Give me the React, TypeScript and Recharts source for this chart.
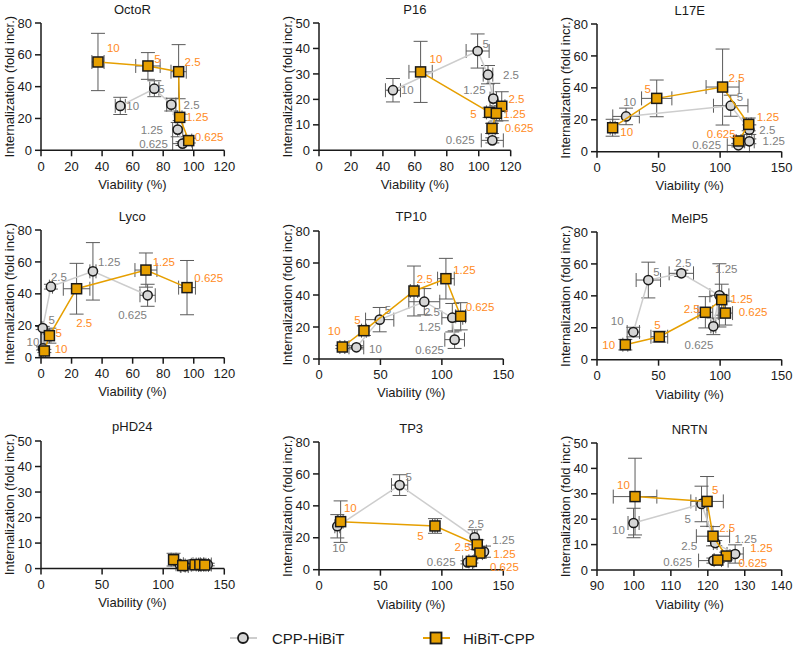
import React from 'react';
import { ScatterChart, Scatter, XAxis, YAxis, ErrorBar } from 'recharts';

// ---------- DATA ----------
const concentrations = ['10', '5', '2.5', '1.25', '0.625'];

// OctoR
const octoRCppX = [51.9, 74.2, 85.3, 89.5, 92.7];
const octoRCppY = [27.9, 38.7, 28.7, 13.0, 4.2];
const octoRCppXErr = [3.3, 3, 3, 3.3, 6.5];
const octoRCppYErr = [5.4, 5, 4, 4.5, 1.2];
const octoRHibX = [37.3, 70.0, 90.1, 90.8, 96.7];
const octoRHibY = [55.5, 53.0, 49.4, 20.7, 6.1];
const octoRHibXErr = [4, 8, 5, 1.5, 2];
const octoRHibYErr = [18, 8.4, 17, 2, 1.5];

// P16
const p16CppX = [46.3, 99.3, 105.8, 109.1, 108.5];
const p16CppY = [23.6, 39.0, 29.7, 20.3, 3.9];
const p16CppXErr = [4.7, 7.2, 3, 2, 6.9];
const p16CppYErr = [4.6, 6.7, 3.6, 6, 1];
const p16HibX = [63.6, 106.8, 114.4, 111.0, 108.3];
const p16HibY = [30.8, 14.9, 17.3, 14.5, 8.6];
const p16HibXErr = [7.3, 2, 2, 2, 2];
const p16HibYErr = [12, 2, 5.7, 3, 2];

// L17E
const l17eCppX = [23.6, 108.6, 123.7, 123.7, 114.8];
const l17eCppY = [22.1, 28.8, 13.8, 6.5, 4.0];
const l17eCppXErr = [10.8, 14, 2, 4, 9];
const l17eCppYErr = [5.2, 6.6, 3, 1.5, 1];
const l17eHibX = [12.7, 48.5, 102.0, 123.2, 115.0];
const l17eHibY = [15.0, 33.4, 40.5, 17.1, 6.7];
const l17eHibXErr = [2, 12.3, 13.4, 2, 2];
const l17eHibYErr = [5.3, 11.5, 23.8, 4, 1.5];

// Lyco
const lycoCppX = [1.3, 1.1, 6.5, 34.0, 69.8];
const lycoCppY = [5.8, 18.6, 44.5, 54.1, 39.1];
const lycoCppXErr = [0.5, 0.5, 1, 2, 5];
const lycoCppYErr = [1, 1, 1.5, 18, 6.9];
const lycoHibX = [2.2, 5.5, 23.3, 68.7, 95.6];
const lycoHibY = [4.2, 13.8, 43.2, 54.9, 43.9];
const lycoHibXErr = [0.8, 1, 8.7, 7.2, 5.5];
const lycoHibYErr = [1, 4.7, 15.9, 10.7, 17];

// TP10
const tp10CppX = [30.4, 49.4, 85.7, 108.5, 110.4];
const tp10CppY = [7.3, 24.6, 35.8, 25.8, 12.1];
const tp10CppXErr = [6, 11.5, 12.6, 8.5, 8];
const tp10CppYErr = [1, 7.6, 8.2, 8.9, 5.5];
const tp10HibX = [19.0, 36.6, 77.3, 103.3, 115.3];
const tp10HibY = [7.5, 17.7, 42.5, 50.2, 26.7];
const tp10HibXErr = [2, 2, 3, 6.8, 4];
const tp10HibYErr = [1, 3, 15.6, 12.7, 8.5];

// MelP5
const melp5CppX = [29.5, 41.7, 68.5, 99.4, 94.5];
const melp5CppY = [17.3, 49.9, 54.1, 40.3, 20.9];
const melp5CppXErr = [5, 9.9, 9.9, 7.7, 2];
const melp5CppYErr = [3, 11.2, 2, 19.8, 5.2];
const melp5HibX = [23.0, 50.6, 88.0, 101.3, 104.3];
const melp5HibY = [9.4, 14.4, 29.7, 37.6, 29.2];
const melp5HibXErr = [2, 6.8, 6, 2, 5.8];
const melp5HibYErr = [3.3, 3.4, 9.8, 9.7, 7.5];

// pHD24
const phd24CppX = [113.5, 117.5, 127.4, 132.0, 136.4];
const phd24CppY = [1.7, 1.0, 1.7, 1.5, 1.6];
const phd24CppXErr = [3, 3, 3, 3, 3];
const phd24CppYErr = [0.5, 0.5, 0.5, 0.5, 0.5];
const phd24HibX = [108.5, 116.0, 126.0, 130.0, 134.0];
const phd24HibY = [3.5, 1.2, 1.5, 1.6, 1.4];
const phd24HibXErr = [2, 2, 3, 3, 3];
const phd24HibYErr = [2.5, 0.5, 0.5, 0.5, 0.5];

// TP3
const tp3CppX = [14.9, 65.6, 126.7, 134.3, 120.9];
const tp3CppY = [27.2, 53.0, 20.3, 11.3, 4.6];
const tp3CppXErr = [2, 6.6, 2, 2, 4];
const tp3CppYErr = [7.3, 6.5, 4.7, 3.5, 1];
const tp3HibX = [17.6, 94.4, 128.8, 131.0, 124.0];
const tp3HibY = [30.1, 27.4, 15.7, 10.4, 5.2];
const tp3HibXErr = [2, 2, 2, 2, 2];
const tp3HibYErr = [13, 4.6, 3, 2, 1];

// NRTN
const nrtnCppX = [99.9, 118.3, 122.0, 127.4, 121.5];
const nrtnCppY = [18.5, 26.0, 10.6, 6.3, 3.7];
const nrtnCppXErr = [1.5, 1.5, 0.5, 2.2, 4];
const nrtnCppYErr = [5.8, 7, 1, 3.6, 1];
const nrtnHibX = [100.3, 119.8, 121.4, 125.0, 122.7];
const nrtnHibY = [28.9, 27.0, 13.3, 5.5, 3.9];
const nrtnHibXErr = [5.9, 4.4, 4.5, 1, 1];
const nrtnHibYErr = [15.1, 9.8, 3.8, 1.5, 1];

const ticks0to120 = [0, 20, 40, 60, 80, 100, 120];
const ticks0to150 = [0, 50, 100, 150];
const ticks90to140 = [90, 100, 110, 120, 130, 140];
const ticks0to80 = [0, 20, 40, 60, 80];
const ticks0to50 = [0, 10, 20, 30, 40, 50];

// ---------- LAYOUT / STYLE ----------
const FONT = '"Liberation Sans", Arial, Helvetica, sans-serif';
const ORANGE = '#e69f00';
const ORANGE_TXT = '#ff8a1c';
const GRAY_LINE = '#cdcdcd';
const GRAY_FILL = '#d6d6d6';
const GRAY_TXT = '#808080';
const ERR = '#5a5a5a';
const INK = '#1a1a1a';

type Lab = [number, number, 's' | 'e'];
type Pt = { conc: string; x: number; y: number; ex: number; ey: number };

const build = (x: number[], y: number[], ex: number[], ey: number[]): Pt[] =>
  concentrations.map((c, i) => ({ conc: c, x: x[i], y: y[i], ex: ex[i], ey: ey[i] }));

const panels = [
  {
    title: 'OctoR', L: 40.7, R: 224, T: 23, B: 150.3,
    xDomain: [0, 120], xTicks: ticks0to120, yDomain: [0, 80], yTicks: ticks0to80,
    cpp: build(octoRCppX, octoRCppY, octoRCppXErr, octoRCppYErr),
    hib: build(octoRHibX, octoRHibY, octoRHibXErr, octoRHibYErr),
    cppLab: [[6, 0, 's'], [4, 0, 's'], [12.3, 0, 's'], [-14.7, 0, 'e'], [-14.7, 0, 'e']] as Lab[],
    hibLab: [[9, -13.7, 's'], [6.3, -6.7, 's'], [6, -9.7, 's'], [6.3, 0, 's'], [6, -4, 's']] as Lab[],
  },
  {
    title: 'P16', L: 319, R: 510.7, T: 23, B: 150.3,
    xDomain: [0, 120], xTicks: ticks0to120, yDomain: [0, 50], yTicks: ticks0to50,
    cpp: build(p16CppX, p16CppY, p16CppXErr, p16CppYErr),
    hib: build(p16HibX, p16HibY, p16HibXErr, p16HibYErr),
    cppLab: [[8, 0, 's'], [5, -7.3, 's'], [15, 0, 's'], [-7.7, -8.7, 'e'], [-17.7, 0, 'e']] as Lab[],
    hibLab: [[9, -13.3, 's'], [-13, 1.7, 'e'], [6.7, -7.7, 's'], [7, 1.0, 's'], [12.7, -0.8, 's']] as Lab[],
  },
  {
    title: 'L17E', L: 597.3, R: 782, T: 24, B: 151.7,
    xDomain: [0, 150], xTicks: ticks0to150, yDomain: [0, 80], yTicks: ticks0to80,
    cpp: build(l17eCppX, l17eCppY, l17eCppXErr, l17eCppYErr),
    hib: build(l17eHibX, l17eHibY, l17eHibXErr, l17eHibYErr),
    cppLab: [[10, -14.3, 'e'], [6, -8.3, 's'], [10, 0, 's'], [13.3, 0, 's'], [-17.3, 0, 'e']] as Lab[],
    hibLab: [[7.7, 4, 's'], [-5.7, -9, 'e'], [6, -8.7, 's'], [8, -7.7, 's'], [-3, -7, 'e']] as Lab[],
  },
  {
    title: 'Lyco', L: 40.7, R: 224, T: 230, B: 357.7,
    xDomain: [0, 120], xTicks: ticks0to120, yDomain: [0, 80], yTicks: ticks0to80,
    cpp: build(lycoCppX, lycoCppY, lycoCppXErr, lycoCppYErr),
    hib: build(lycoHibX, lycoHibY, lycoHibXErr, lycoHibYErr),
    cppLab: [[-3.7, -6.3, 'e'], [5.7, -8, 's'], [0, -10, 's'], [5, -9.7, 's'], [-0.7, 19.7, 'e']] as Lab[],
    hibLab: [[10.3, -1.7, 's'], [6, -2.3, 's'], [-0.3, 34.7, 's'], [6.7, -8.3, 's'], [7.3, -10, 's']] as Lab[],
  },
  {
    title: 'TP10', L: 319, R: 503.3, T: 230.7, B: 358.7,
    xDomain: [0, 150], xTicks: ticks0to150, yDomain: [0, 80], yTicks: ticks0to80,
    cpp: build(tp10CppX, tp10CppY, tp10CppXErr, tp10CppYErr),
    hib: build(tp10HibX, tp10HibY, tp10HibXErr, tp10HibYErr),
    cppLab: [[12.7, 1.3, 's'], [5, -9.3, 's'], [-0.3, 10.3, 's'], [-11.7, 9.3, 'e'], [-10.7, 10.7, 'e']] as Lab[],
    hibLab: [[-1.7, -15.7, 'e'], [-3.3, -10.3, 'e'], [2.7, -12.3, 's'], [7.3, -8.3, 's'], [5, -9.3, 's']] as Lab[],
  },
  {
    title: 'MelP5', L: 597.3, R: 782, T: 232.3, B: 360,
    xDomain: [0, 150], xTicks: ticks0to150, yDomain: [0, 80], yTicks: ticks0to80,
    cpp: build(melp5CppX, melp5CppY, melp5CppXErr, melp5CppYErr),
    hib: build(melp5HibX, melp5HibY, melp5HibXErr, melp5HibYErr),
    cppLab: [[-9.7, -11.3, 'e'], [5, -8.3, 's'], [-6, -10, 's'], [-4.3, -26.3, 's'], [0, 18.3, 'e']] as Lab[],
    hibLab: [[-10.3, 0, 'e'], [-5, -11.7, 's'], [-5.7, -3.3, 'e'], [8.7, -1, 's'], [13.3, -0.7, 's']] as Lab[],
  },
  {
    title: 'pHD24', L: 40.7, R: 224, T: 440.7, B: 568.3,
    xDomain: [0, 150], xTicks: ticks0to150, yDomain: [0, 50], yTicks: ticks0to50,
    cpp: build(phd24CppX, phd24CppY, phd24CppXErr, phd24CppYErr),
    hib: build(phd24HibX, phd24HibY, phd24HibXErr, phd24HibYErr),
    cppLab: null,
    hibLab: null,
  },
  {
    title: 'TP3', L: 319, R: 503.3, T: 442.3, B: 570,
    xDomain: [0, 150], xTicks: ticks0to150, yDomain: [0, 80], yTicks: ticks0to80,
    cpp: build(tp3CppX, tp3CppY, tp3CppXErr, tp3CppYErr),
    hib: build(tp3HibX, tp3HibY, tp3HibXErr, tp3HibYErr),
    cppLab: [[-5, 21.7, 's'], [6, -8.3, 's'], [-6.7, -13, 's'], [8.3, -11.3, 's'], [-12, 0, 'e']] as Lab[],
    hibLab: [[3.3, -13.7, 's'], [-17.7, 10, 's'], [-6.7, 2.3, 'e'], [13.3, 1.3, 's'], [18.7, 5.6, 's']] as Lab[],
  },
  {
    title: 'NRTN', L: 597.3, R: 782, T: 443, B: 570,
    xDomain: [90, 140], xTicks: ticks90to140, yDomain: [0, 50], yTicks: ticks0to50,
    cpp: build(nrtnCppX, nrtnCppY, nrtnCppXErr, nrtnCppYErr),
    hib: build(nrtnHibX, nrtnHibY, nrtnHibXErr, nrtnHibYErr),
    cppLab: [[-8.7, 7, 'e'], [-10.7, 15, 'e'], [-18, 3, 'e'], [-0.7, -15.3, 's'], [-21.3, 1.7, 'e']] as Lab[],
    hibLab: [[-18, -11.7, 's'], [5, -11, 's'], [6.3, -8, 's'], [24, -7.7, 's'], [20.7, 3.3, 's']] as Lab[],
  },
];

const YW = 45;
const XH = 30;
const MT = 12;
const MR = 40;
const LEG_Y = 638;

const makeShape = (kind: 'circle' | 'square', labels: Lab[] | null, color: string) => (props: any) => {
  const { cx, cy, payload } = props;
  if (cx == null || cy == null) return null;
  const i = concentrations.indexOf(payload.conc);
  const lab = labels ? labels[i] : null;
  return (
    <g>
      {kind === 'circle' ? (
        <circle cx={cx} cy={cy} r={4.6} fill={GRAY_FILL} stroke={INK} strokeWidth={1.5} />
      ) : (
        <rect x={cx - 5} y={cy - 5} width={10} height={10} fill={ORANGE} stroke={INK} strokeWidth={1.5} />
      )}
      {lab && (
        <text
          x={cx + lab[0]}
          y={cy + lab[1]}
          textAnchor={lab[2] === 'e' ? 'end' : 'start'}
          dominantBaseline="central"
          fontSize={11.5}
          fontFamily={FONT}
          fill={color}
        >
          {payload.conc}
        </text>
      )}
    </g>
  );
};

const Panel = ({ p }: { p: (typeof panels)[number] }) => {
  const plotW = p.R - p.L;
  const plotH = p.B - p.T;
  const w = YW + plotW + MR;
  const h = MT + plotH + XH;
  const tickStyle = { fontSize: 13, fill: INK, fontFamily: FONT };
  return (
    <>
      <div style={{ position: 'absolute', left: p.L - YW, top: p.T - MT }}>
        <ScatterChart width={w} height={h} margin={{ top: MT, right: MR, bottom: 0, left: 0 }}>
          <XAxis
            type="number"
            dataKey="x"
            domain={p.xDomain as [number, number]}
            ticks={p.xTicks}
            height={XH}
            axisLine={{ stroke: INK, strokeWidth: 1.5 }}
            tickLine={{ stroke: INK, strokeWidth: 1.5 }}
            tickSize={6}
            tickMargin={5}
            tick={tickStyle}
            interval={0}
          />
          <YAxis
            type="number"
            dataKey="y"
            domain={p.yDomain as [number, number]}
            ticks={p.yTicks}
            width={YW}
            axisLine={{ stroke: INK, strokeWidth: 1.5 }}
            tickLine={{ stroke: INK, strokeWidth: 1.5 }}
            tickSize={6}
            tickMargin={3}
            tick={tickStyle}
            interval={0}
          />
          <Scatter
            data={p.cpp}
            isAnimationActive={false}
            line={{ stroke: GRAY_LINE, strokeWidth: 1.5 }}
            lineType="joint"
            shape={makeShape('circle', p.cppLab, GRAY_TXT)}
          >
            <ErrorBar dataKey="ex" direction="x" width={7} stroke={ERR} strokeWidth={1} isAnimationActive={false} />
            <ErrorBar dataKey="ey" direction="y" width={7} stroke={ERR} strokeWidth={1} isAnimationActive={false} />
          </Scatter>
          <Scatter
            data={p.hib}
            isAnimationActive={false}
            line={{ stroke: ORANGE, strokeWidth: 1.5 }}
            lineType="joint"
            shape={makeShape('square', p.hibLab, ORANGE_TXT)}
          >
            <ErrorBar dataKey="ex" direction="x" width={7} stroke={ERR} strokeWidth={1} isAnimationActive={false} />
            <ErrorBar dataKey="ey" direction="y" width={7} stroke={ERR} strokeWidth={1} isAnimationActive={false} />
          </Scatter>
        </ScatterChart>
      </div>
      <svg
        style={{ position: 'absolute', left: 0, top: 0, pointerEvents: 'none', overflow: 'visible' }}
        width={793}
        height={655}
      >
        <text x={(p.L + p.R) / 2} y={p.T - 14} textAnchor="middle" dominantBaseline="central" fontSize={13} fontFamily={FONT} fill={INK}>
          {p.title}
        </text>
        <text x={(p.L + p.R) / 2} y={p.B + 34} textAnchor="middle" dominantBaseline="central" fontSize={13} fontFamily={FONT} fill={INK}>
          Viability (%)
        </text>
        <text
          x={0}
          y={0}
          transform={`translate(${p.L - 31.5}, ${(p.T + p.B) / 2}) rotate(-90)`}
          textAnchor="middle"
          dominantBaseline="central"
          fontSize={13}
          fontFamily={FONT}
          fill={INK}
        >
          Internalization (fold incr.)
        </text>
      </svg>
    </>
  );
};

const Legend = () => (
  <svg style={{ position: 'absolute', left: 0, top: 0, pointerEvents: 'none' }} width={793} height={655}>
    <line x1={230} y1={LEG_Y} x2={257} y2={LEG_Y} stroke={GRAY_LINE} strokeWidth={2} />
    <circle cx={243} cy={LEG_Y} r={5} fill={GRAY_FILL} stroke={INK} strokeWidth={1.8} />
    <text x={272} y={LEG_Y} dominantBaseline="central" fontSize={15} fontFamily={FONT} fill={INK}>
      CPP-HiBiT
    </text>
    <line x1={423} y1={LEG_Y} x2={450} y2={LEG_Y} stroke={ORANGE} strokeWidth={2} />
    <rect x={430.5} y={LEG_Y - 5.5} width={11} height={11} fill={ORANGE} stroke={INK} strokeWidth={1.8} />
    <text x={463} y={LEG_Y} dominantBaseline="central" fontSize={15} fontFamily={FONT} fill={INK}>
      HiBiT-CPP
    </text>
  </svg>
);

export default function App() {
  return (
    <div style={{ position: 'absolute', left: 0, top: 0, width: 793, height: 655, background: '#fff', fontFamily: FONT }}>
      {panels.map((p) => (
        <Panel key={p.title} p={p} />
      ))}
      <Legend />
    </div>
  );
}
